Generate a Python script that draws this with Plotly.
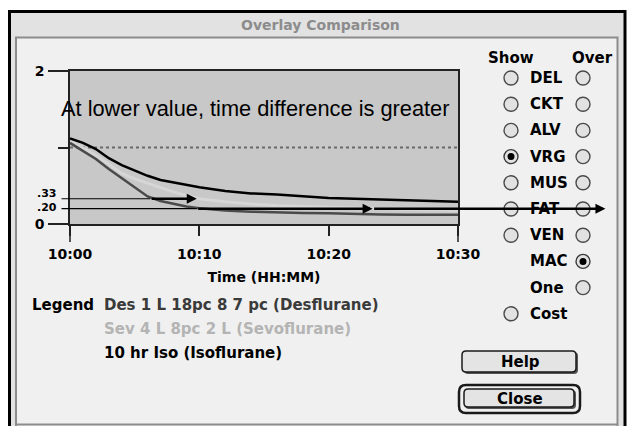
import plotly.graph_objects as go

W, H = 631, 426

# minutes after 10:00
minutes = [0, 1, 2, 3, 4, 5, 6, 7, 8, 9, 10, 12, 14, 16, 18, 20, 22, 24, 26, 28, 30]
iso = [1.12, 1.06, 0.98, 0.86, 0.77, 0.70, 0.63, 0.575, 0.54, 0.51, 0.48,
       0.43, 0.40, 0.385, 0.365, 0.34, 0.33, 0.32, 0.31, 0.30, 0.29]
sev = [1.09, 1.00, 0.90, 0.78, 0.66, 0.59, 0.53, 0.47, 0.42, 0.37, 0.33,
       0.29, 0.26, 0.24, 0.23, 0.22, 0.205, 0.197, 0.19, 0.185, 0.18]
des = [1.06, 0.96, 0.85, 0.72, 0.60, 0.47, 0.36, 0.30, 0.26, 0.23, 0.205,
       0.175, 0.16, 0.15, 0.145, 0.14, 0.13, 0.125, 0.12, 0.12, 0.12]

tick_minutes = [0, 10, 20, 30]
tick_labels = ["10:00", "10:10", "10:20", "10:30"]

mac_level = 1
ref_levels = [0.33, 0.20]
ref_labels = [".33", ".20"]
ref_label_shift = [5, 1]
# times where the reference lines start / meet the curves (last one runs off the window)
ref_times = [[-0.77, 6.2, 9.8], [-0.77, 9.8, 23.4, 41.4]]

legend_names = ["Des 1 L 18pc 8 7 pc (Desflurane)", "Sev 4 L 8pc 2 L (Sevoflurane)",
                "10 hr Iso (Isoflurane)"]
legend_colors = ["#3a3a3a", "#b4b4b4", "#000000"]

compartments = ["DEL", "CKT", "ALV", "VRG", "MUS", "FAT", "VEN", "MAC", "One", "Cost"]
show_state = [0, 0, 0, 1, 0, 0, 0, None, None, 0]
over_state = [0, 0, 0, 0, 0, 0, 0, 1, 0, None]

FONT = "DejaVu Sans"


def px(x):
    return x / W


def py(y):
    return 1 - y / H


def rounded(x0, y0, x1, y1, r):
    return (f"M {px(x0 + r)},{py(y0)} L {px(x1 - r)},{py(y0)} "
            f"Q {px(x1)},{py(y0)} {px(x1)},{py(y0 + r)} L {px(x1)},{py(y1 - r)} "
            f"Q {px(x1)},{py(y1)} {px(x1 - r)},{py(y1)} L {px(x0 + r)},{py(y1)} "
            f"Q {px(x0)},{py(y1)} {px(x0)},{py(y1 - r)} L {px(x0)},{py(y0 + r)} "
            f"Q {px(x0)},{py(y0)} {px(x0 + r)},{py(y0)} Z")


fig = go.Figure()

fig.add_trace(go.Scatter(x=[minutes[0], minutes[-1]], y=[mac_level, mac_level], mode="lines",
                         line=dict(color="#6a6a6a", width=2, dash="dot"), hoverinfo="skip"))
for name, vals, color, width in [("Sev", sev, "#d6d6d6", 3), ("Des", des, "#4a4a4a", 2.5),
                                 ("Iso", iso, "#000000", 2.5)]:
    fig.add_trace(go.Scatter(x=minutes, y=vals, mode="lines", name=name,
                             line=dict(color=color, width=width)))

shapes = [
    # window frame and panel
    dict(type="rect", xref="paper", yref="paper", x0=px(9.5), x1=px(625), y0=py(440), y1=py(11.5),
         line=dict(color="#000000", width=3), fillcolor="#e2e2e2", layer="below"),
    dict(type="rect", xref="paper", yref="paper", x0=px(16), x1=px(617.5), y0=py(440), y1=py(37.5),
         line=dict(color="#8c8c8c", width=2), fillcolor="#f0f0f0", layer="below"),
    dict(type="line", xref="paper", yref="paper", x0=px(16), x1=px(617.5), y0=py(424.5), y1=py(424.5),
         line=dict(color="#8c8c8c", width=2), layer="below"),
    # plot background
    dict(type="rect", xref="x domain", yref="y domain", x0=0, x1=1, y0=0, y1=1,
         line=dict(width=0), fillcolor="#c8c8c8", layer="below"),
]
# long ticks at the ends of the time axis
for xd in [0, 1]:
    shapes.append(dict(type="line", xref="x domain", yref="paper", x0=xd, x1=xd, y0=py(242), y1=py(224),
                       line=dict(color="#222222", width=1.5)))

annotations = [
    dict(text="Overlay Comparison", x=px(320), y=py(25), font=dict(size=14, color="#8c8c8c")),
    dict(text="Show", x=px(511), y=py(58)),
    dict(text="Over", x=px(592), y=py(58)),
    dict(text="Legend", x=px(30), y=py(305), xanchor="left"),
    dict(text="Help", x=px(520), y=py(362)),
    dict(text="Close", x=px(520), y=py(399)),
]
for i, (name, color) in enumerate(zip(legend_names, legend_colors)):
    annotations.append(dict(text=name, x=px(102), y=py(305 + 24 * i), xanchor="left",
                            font=dict(size=15, color=color)))

for i, (name, s, o) in enumerate(zip(compartments, show_state, over_state)):
    cy = 78 + 26.2 * i
    annotations.append(dict(text=name, x=px(528), y=py(cy), xanchor="left"))
    for cx, state in [(511, s), (583, o)]:
        if state is None:
            continue
        shapes.append(dict(type="circle", xref="paper", yref="paper", x0=px(cx - 7), x1=px(cx + 7),
                           y0=py(cy + 7), y1=py(cy - 7), fillcolor="#e2e2e2",
                           line=dict(color="#3a3a3a" if state else "#4a4a4a", width=1.4)))
        if state:
            shapes.append(dict(type="circle", xref="paper", yref="paper", x0=px(cx - 3.5),
                               x1=px(cx + 3.5), y0=py(cy + 3.5), y1=py(cy - 3.5),
                               fillcolor="#000000", line=dict(width=0)))

for a in annotations:
    a.setdefault("xref", "paper")
    a.setdefault("yref", "paper")
    a.setdefault("xanchor", "center")
    a.setdefault("yanchor", "middle")
    a.setdefault("showarrow", False)
    f = a.setdefault("font", {})
    f.setdefault("size", 15)
    f.setdefault("color", "#000000")
    f["family"] = FONT
    f["weight"] = "bold"

# buttons
shapes.append(dict(type="path", xref="paper", yref="paper", path=rounded(464, 352, 578, 374, 4),
                   fillcolor="#555555", line=dict(width=0), layer="below"))
shapes.append(dict(type="path", xref="paper", yref="paper", path=rounded(462, 351, 576, 372, 4),
                   fillcolor="#e4e4e4", line=dict(color="#1a1a1a", width=1.5), layer="below"))
shapes.append(dict(type="path", xref="paper", yref="paper", path=rounded(459, 385, 580, 413, 7),
                   fillcolor="rgba(0,0,0,0)", line=dict(color="#1a1a1a", width=2.5), layer="below"))
shapes.append(dict(type="path", xref="paper", yref="paper", path=rounded(465, 390, 576, 409, 4),
                   fillcolor="#555555", line=dict(width=0), layer="below"))
shapes.append(dict(type="path", xref="paper", yref="paper", path=rounded(464, 389, 574, 407, 4),
                   fillcolor="#e4e4e4", line=dict(color="#1a1a1a", width=1.5), layer="below"))

# note inside the plot
annotations.append(dict(text="At lower value, time difference is greater", xref="paper", yref="paper",
                        x=px(59), y=py(108), xanchor="left", yanchor="middle", showarrow=False,
                        font=dict(family="Liberation Sans", size=21.8, color="#000000")))

# reference level arrows
for level, label, shift, times in zip(ref_levels, ref_labels, ref_label_shift, ref_times):
    annotations.append(dict(text=label, xref="x", yref="y", x=0, y=level, xanchor="right",
                            yanchor="middle", xshift=-12, yshift=shift, showarrow=False, borderpad=0,
                            font=dict(family=FONT, size=11, color="#000000", weight="bold")))
    for k in range(len(times) - 1):
        head = k > 0
        annotations.append(dict(text="", xref="x", yref="y", axref="x", ayref="y",
                                x=times[k + 1], y=level, ax=times[k], ay=level, showarrow=True,
                                arrowhead=2 if head else 0, arrowsize=0.8,
                                arrowwidth=2.5 if head else 1.2, arrowcolor="#000000",
                                standoff=0, startstandoff=0))

fig.update_layout(
    width=W, height=H, autosize=False,
    margin=dict(l=0, r=0, t=0, b=0),
    paper_bgcolor="#ffffff", plot_bgcolor="#c8c8c8",
    showlegend=False,
    shapes=shapes, annotations=annotations,
)
fig.update_xaxes(
    domain=[px(70), px(458)], range=[0, 30], tickmode="array", tickvals=tick_minutes, ticktext=tick_labels,
    ticks="outside", ticklen=10, tickwidth=1.5, tickcolor="#222222",
    showline=True, linecolor="#222222", linewidth=1.5, mirror=True, showgrid=False, zeroline=False,
    tickfont=dict(family=FONT, size=14, color="#000000", weight="bold"), ticklabelstandoff=6,
    title=dict(text="Time (HH:MM)", font=dict(family=FONT, size=14, color="#000000", weight="bold"),
               standoff=12),
    automargin=False, fixedrange=True,
)
fig.update_yaxes(
    domain=[py(224), py(71)], range=[0, 2], tickmode="array", tickvals=[0, 2], ticktext=["0", "2"],
    ticks="outside", ticklen=20, tickwidth=1.5, tickcolor="#222222",
    minor=dict(tickmode="array", tickvals=[mac_level], ticklen=10, tickwidth=1.5, tickcolor="#222222",
               ticks="outside", showgrid=False),
    showline=True, linecolor="#222222", linewidth=1.5, mirror=True, showgrid=False, zeroline=False,
    tickfont=dict(family=FONT, size=14, color="#000000", weight="bold"), ticklabelstandoff=1,
    automargin=False, fixedrange=True,
)

# the page is photographed at exactly the figure size, so drop the default body margin
fig.write_html("out.html", config={"displayModeBar": False},
               post_script="document.body.style.margin = '0';")
